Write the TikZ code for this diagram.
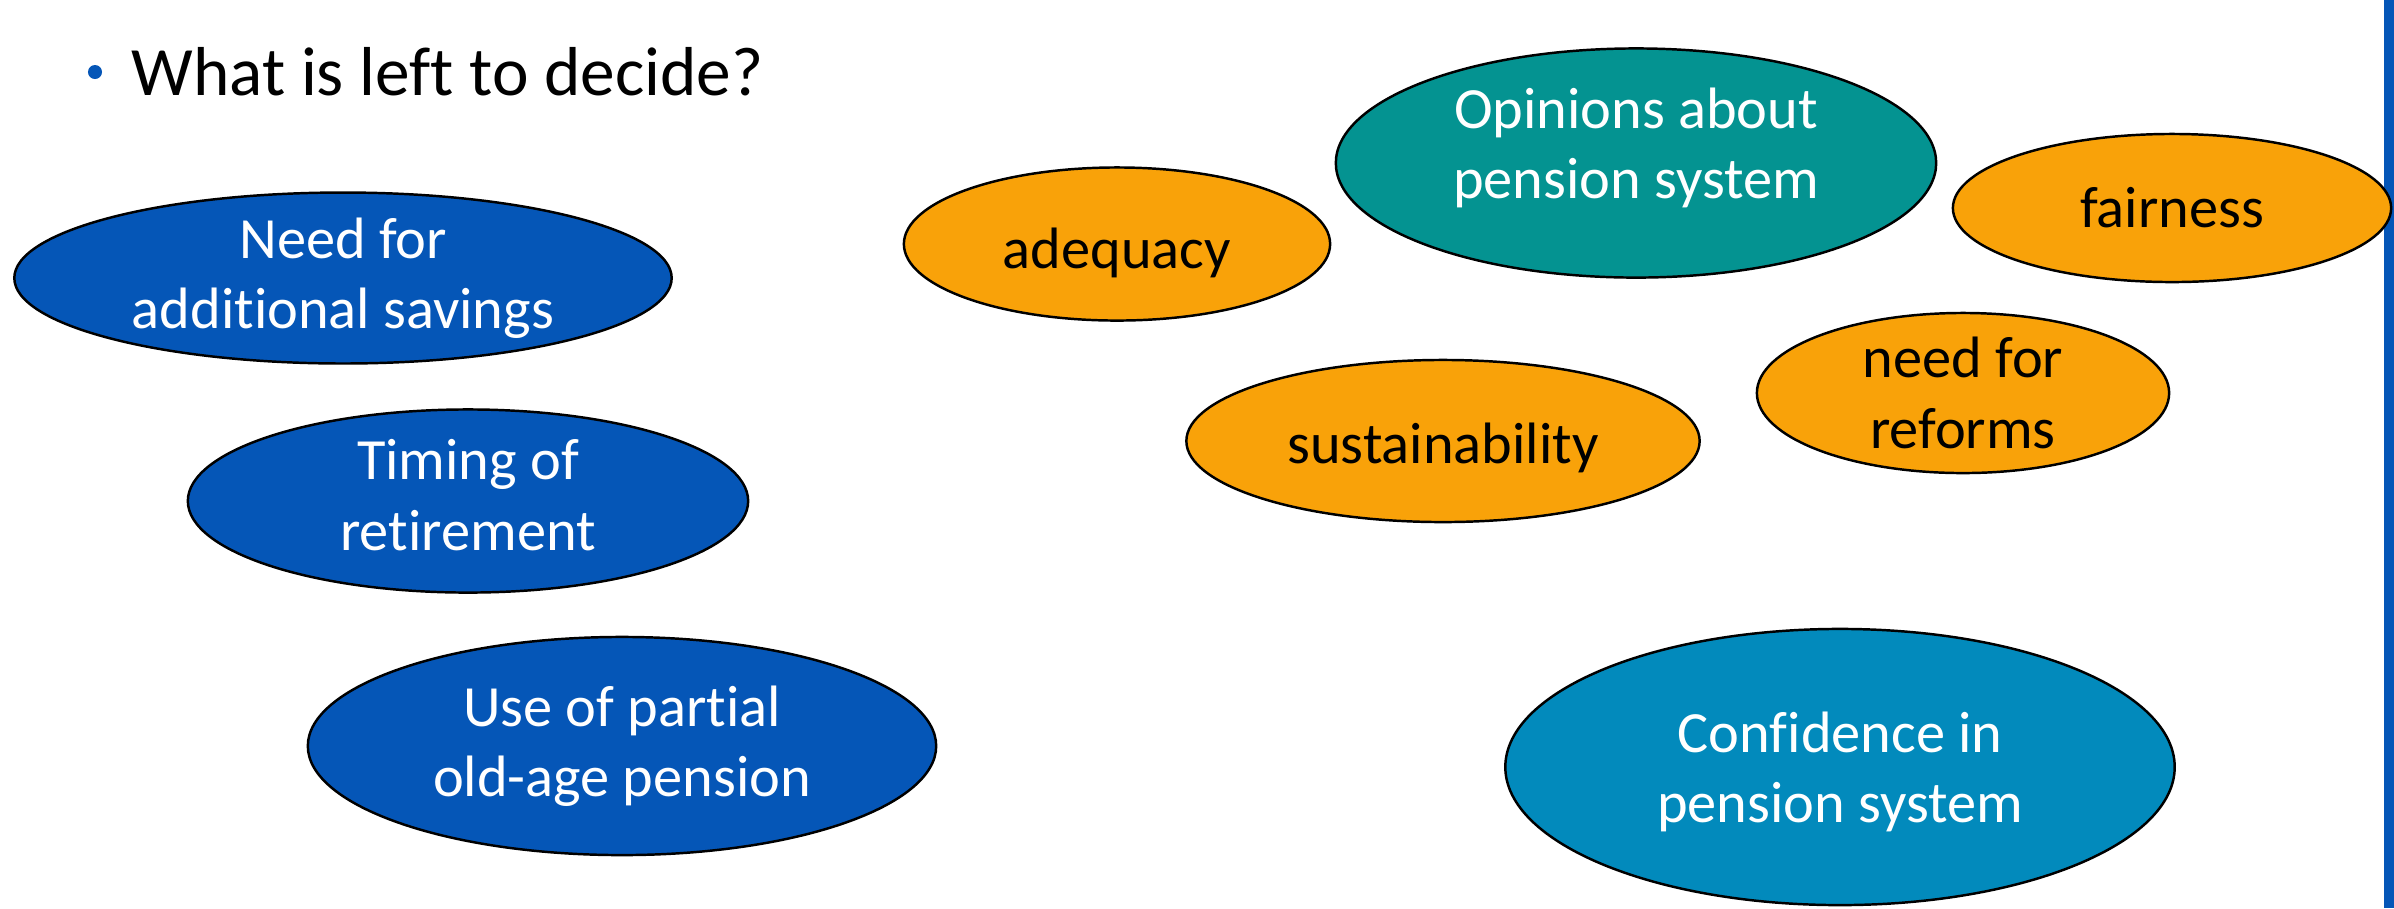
\documentclass[tikz,border=0pt]{standalone}
\usepackage{fontspec}
\setmainfont{Carlito}[Ligatures={NoCommon,NoDiscretionary}]
\usepackage{tikz}
\usetikzlibrary{shapes.geometric}

\definecolor{slideblue}{RGB}{5,86,183}
\definecolor{opinionteal}{RGB}{4,147,145}
\definecolor{aspectorange}{RGB}{249,162,9}
\definecolor{confblue}{RGB}{2,138,188}

\begin{document}
\begin{tikzpicture}[x=0.01cm, y=-0.01cm, align=center,
    bubble/.style={draw, ellipse, inner sep=0pt, line width=0.7pt,
        font=\fontsize{16.6}{20}\selectfont},
    decision/.style={bubble, fill=slideblue, text=white},
    aspect/.style={bubble, fill=aspectorange, text=black}]
    \useasboundingbox (0,0) rectangle (2394,908);

    % heading with its bullet
    \node [circle, fill=slideblue, inner sep=0pt, minimum size=0.14cm] (bullet) at (95,72) {};
    \node [anchor=base west, inner sep=0pt, font=\fontsize{19.7}{24}\selectfont] (question) at (131,95) {What is left to decide?};

    % slide border on the right
    \fill[slideblue] (2384,0) rectangle (2394,908);

    % things left to decide
    \node [decision, minimum width=6.57cm, minimum height=1.68cm] (savings) at (343,278) {Need for\\additional savings};
    \node [decision, text depth=0.12cm, minimum width=5.60cm, minimum height=1.83cm] (timing) at (468,501) {Timing of\\retirement};
    \node [decision, minimum width=6.28cm, minimum height=2.18cm] (partial) at (622,746) {Use of partial\\old-age pension};

    % opinions and their aspects
    \node [bubble, fill=opinionteal, text=white, text depth=0.40cm, minimum width=6.00cm, minimum height=2.29cm] (opinions) at (1636,163) {Opinions about\\pension system};
    \node [aspect, text height=0.58cm, minimum width=4.26cm, minimum height=1.53cm] (adequacy) at (1117,244) {adequacy};
    \node [aspect, minimum width=4.38cm, minimum height=1.48cm] (fairness) at (2172,208) {fairness};
    \node [aspect, minimum width=4.12cm, minimum height=1.60cm] (reforms) at (1963,393) {need for\\reforms};
    \node [aspect, text height=0.55cm, minimum width=5.13cm, minimum height=1.62cm] (sustain) at (1443,441) {sustainability};

    \node [bubble, fill=confblue, text=white, text depth=0pt, minimum width=6.69cm, minimum height=2.76cm] (confidence) at (1840,767) {Confidence in\\pension system};

\end{tikzpicture}
\end{document}
